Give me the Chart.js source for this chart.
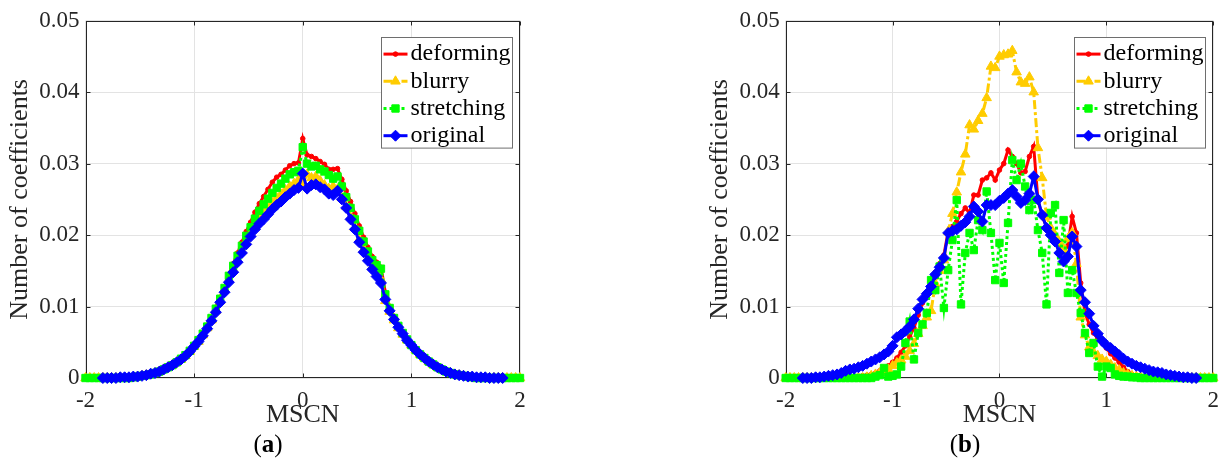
<!DOCTYPE html>
<html>
<head>
<meta charset="utf-8">
<script src="https://cdn.jsdelivr.net/npm/chart.js@4/dist/chart.umd.min.js"></script>
<style>
html,body{margin:0;padding:0;background:#fff;width:1228px;height:462px;overflow:hidden;}
.panel{position:absolute;top:0;}
canvas{display:block;}
.cap{position:absolute;font-family:"Liberation Serif","Times New Roman",serif;font-size:25px;line-height:28px;color:#000;transform:translateX(-50%);white-space:nowrap;}
</style>
</head>
<body>
<div class="panel" style="left:0px"><canvas id="ca" width="540" height="462"></canvas></div>
<div class="panel" style="left:700px"><canvas id="cb" width="528" height="462"></canvas></div>
<div class="cap" style="left:268px;top:430px">(<b>a</b>)</div>
<div class="cap" style="left:965px;top:430px">(<b>b</b>)</div>
<script>
// ---------- data ----------
const X = [-2,-1.96,-1.92,-1.88,-1.84,-1.8,-1.76,-1.72,-1.68,-1.64,
  -1.6,-1.56,-1.52,-1.48,-1.44,-1.4,-1.36,-1.32,-1.28,-1.24,
  -1.2,-1.16,-1.12,-1.08,-1.04,-1,-0.96,-0.92,-0.88,-0.84,
  -0.8,-0.76,-0.72,-0.68,-0.64,-0.6,-0.56,-0.52,-0.48,-0.44,
  -0.4,-0.36,-0.32,-0.28,-0.24,-0.2,-0.16,-0.12,-0.08,-0.04,
  0,0.04,0.08,0.12,0.16,0.2,0.24,0.28,0.32,0.36,
  0.4,0.44,0.48,0.52,0.56,0.6,0.64,0.68,0.72,0.76,
  0.8,0.84,0.88,0.92,0.96,1,1.04,1.08,1.12,1.16,
  1.2,1.24,1.28,1.32,1.36,1.4,1.44,1.48,1.52,1.56,
  1.6,1.64,1.68,1.72,1.76,1.8,1.84,1.88,1.92,1.96,
  2];

const SERIES_NAMES = ['deforming','blurry','stretching','original'];
const X_TICKS = [-2,-1,0,1,2];
const Y_TICKS = [0,0.01,0.02,0.03,0.04,0.05];

// panel (a)
const A_DEFORMING = [0,0,0,0,0,0,0,0,0,0,
  0,0.0001,0.0002,0.0003,0.0004,0.0005,0.0007,0.0009,0.0012,0.0015,
  0.0018,0.0022,0.0027,0.0032,0.0038,0.0045,0.0053,0.0062,0.0073,0.0085,
  0.0099,0.0113,0.0127,0.0145,0.0160,0.0175,0.0190,0.0205,0.0218,0.0232,
  0.0244,0.0254,0.0264,0.0274,0.0281,0.0285,0.0291,0.0297,0.0300,0.0301,
  0.0335,0.0312,0.0310,0.0307,0.0303,0.0299,0.0292,0.0292,0.0293,0.0278,
  0.0262,0.0247,0.0230,0.0213,0.0197,0.0183,0.0170,0.0162,0.0155,0.0120,
  0.0100,0.0086,0.0074,0.0064,0.0055,0.0047,0.0040,0.0034,0.0028,0.0023,
  0.0019,0.0015,0.0012,0.0009,0.0007,0.0005,0.0004,0.0003,0.0002,0.0001,
  0,0,0,0,0,0,0,0,0,0,
  0];
const A_BLURRY = [0,0,0,0,0,0,0,0,0,0,
  0,0.0001,0.0002,0.0003,0.0004,0.0005,0.0007,0.0009,0.0012,0.0015,
  0.0018,0.0022,0.0026,0.0031,0.0037,0.0044,0.0051,0.0060,0.0070,0.0081,
  0.0094,0.0108,0.0123,0.0138,0.0152,0.0165,0.0178,0.0191,0.0202,0.0212,
  0.0222,0.0230,0.0238,0.0245,0.0252,0.0257,0.0263,0.0268,0.0272,0.0277,
  0.0272,0.0285,0.0280,0.0282,0.0276,0.0270,0.0265,0.0268,0.0264,0.0252,
  0.0240,0.0225,0.0210,0.0194,0.0180,0.0168,0.0156,0.0146,0.0138,0.0108,
  0.0093,0.0081,0.0070,0.0061,0.0053,0.0046,0.0039,0.0033,0.0028,0.0023,
  0.0019,0.0015,0.0012,0.0009,0.0007,0.0005,0.0004,0.0003,0.0002,0.0001,
  0,0,0,0,0,0,0,0,0,0,
  0];
const A_STRETCHING = [0,0,0,0,0,0,0,0,0,0,
  0,0.0001,0.0002,0.0003,0.0004,0.0005,0.0007,0.0009,0.0012,0.0015,
  0.0018,0.0022,0.0027,0.0032,0.0038,0.0045,0.0053,0.0062,0.0072,0.0084,
  0.0097,0.0111,0.0126,0.0143,0.0157,0.0171,0.0185,0.0199,0.0211,0.0223,
  0.0234,0.0243,0.0251,0.0259,0.0266,0.0272,0.0279,0.0285,0.0288,0.0290,
  0.0323,0.0300,0.0296,0.0297,0.0292,0.0289,0.0284,0.0279,0.0282,0.0268,
  0.0253,0.0238,0.0222,0.0206,0.0191,0.0177,0.0165,0.0158,0.0153,0.0117,
  0.0098,0.0084,0.0073,0.0063,0.0054,0.0046,0.0039,0.0033,0.0028,0.0023,
  0.0019,0.0015,0.0012,0.0009,0.0007,0.0005,0.0004,0.0003,0.0002,0.0001,
  0,0,0,0,0,0,0,0,0,0,
  0];
const A_ORIGINAL = [null,null,null,null,0,0,0,0,0.0001,0.0001,
  0.0001,0.0002,0.0002,0.0003,0.0004,0.0006,0.0007,0.0009,0.0012,0.0015,
  0.0018,0.0022,0.0026,0.0031,0.0037,0.0044,0.0051,0.0059,0.0069,0.0080,
  0.0092,0.0106,0.0120,0.0134,0.0148,0.0162,0.0175,0.0187,0.0198,0.0208,
  0.0216,0.0222,0.0229,0.0236,0.0242,0.0247,0.0253,0.0258,0.0263,0.0266,
  0.0286,0.0265,0.0270,0.0271,0.0267,0.0264,0.0258,0.0256,0.0262,0.0250,
  0.0238,0.0222,0.0208,0.0190,0.0176,0.0164,0.0152,0.0142,0.0133,0.0110,
  0.0094,0.0082,0.0071,0.0062,0.0053,0.0046,0.0039,0.0033,0.0028,0.0023,
  0.0019,0.0015,0.0012,0.0009,0.0007,0.0005,0.0004,0.0003,0.0002,0.0002,
  0.0001,0.0001,0.0001,0,0,0,0,null,null,null,
  null];

// panel (b)
const B_DEFORMING = [0,0,0,0,0,0,0,0,0,0,
  0,0,0,0,0.0001,0.0001,0.0002,0.0002,0.0003,0.0004,
  0.0005,0.0007,0.0010,0.0013,0.0017,0.0022,0.0028,0.0036,0.0045,0.0058,
  0.0070,0.0088,0.0105,0.0120,0.0133,0.0148,0.0160,0.0172,0.0205,0.0212,
  0.0219,0.0230,0.0238,0.0231,0.0256,0.0256,0.0277,0.0280,0.0287,0.0277,
  0.0291,0.0300,0.0319,0.0310,0.0300,0.0287,0.0289,0.0310,0.0324,0.0249,
  0.0226,0.0212,0.0205,0.0196,0.0188,0.0177,0.0185,0.0226,0.0203,0.0133,
  0.0091,0.0075,0.0063,0.0055,0.0049,0.0042,0.0034,0.0028,0.0022,0.0015,
  0.0009,0.0005,0.0003,0.0001,0,0,0,0,0,0,
  0,0,0,0,0,0,0,0,0,0,
  0];
const B_BLURRY = [0,0,0,0,0,0,0,0,0,0,
  0,0,0,0,0,0,0,0,0,0.0001,
  0.0003,0.0005,0.0007,0.0009,0.0012,0.0017,0.0021,0.0025,0.0030,0.0038,
  0.0048,0.0062,0.0073,0.0085,0.0094,0.0132,0.0150,0.0165,0.0205,0.0230,
  0.0260,0.0288,0.0313,0.0354,0.0348,0.0360,0.0370,0.0392,0.0436,0.0434,
  0.0450,0.0452,0.0453,0.0458,0.0428,0.0414,0.0412,0.0421,0.0400,0.0322,
  0.0280,0.0226,0.0210,0.0200,0.0190,0.0180,0.0195,0.0203,0.0160,0.0085,
  0.0060,0.0043,0.0036,0.0031,0.0026,0.0023,0.0019,0.0014,0.0011,0.0007,
  0.0005,0.0003,0.0002,0.0001,0,0,0,0,0,0,
  0,0,0,0,0,0,0,0,0,0,
  0];
const B_STRETCHING = [0,0,0,0,0,0,0,0,0,0,
  0,0,0,0,0,0,0,0,0,0,
  0,0.0002,0.0004,0.0014,0.0002,0.0003,0.0005,0.0016,0.0049,0.0079,
  0.0026,0.0063,0.0075,0.0091,0.0137,0.0123,0.0156,0.0098,0.0151,0.0193,
  0.0249,0.0103,0.0175,0.0203,0.0179,0.0221,0.0207,0.0261,0.0203,0.0137,
  0.0189,0.0133,0.0217,0.0305,0.0277,0.0300,0.0268,0.0235,0.0249,0.0207,
  0.0175,0.0103,0.0231,0.0242,0.0147,0.0221,0.0119,0.0151,0.0119,0.0091,
  0.0063,0.0035,0.0049,0.0016,0.0002,0.0016,0.0014,0.0005,0.0003,0.0002,
  0.0002,0.0001,0.0001,0,0,0,0,0,0,0,
  0,0,0,0,0,0,0,0,0,0,
  0];
const B_ORIGINAL = [null,null,null,null,0,0,0,0.0001,0.0001,0.0002,
  0.0003,0.0004,0.0005,0.0007,0.0010,0.0012,0.0013,0.0015,0.0017,0.0020,
  0.0023,0.0026,0.0029,0.0033,0.0037,0.0045,0.0057,0.0061,0.0066,0.0072,
  0.0082,0.0097,0.0110,0.0118,0.0128,0.0145,0.0155,0.0168,0.0203,0.0206,
  0.0208,0.0213,0.0218,0.0226,0.0240,0.0233,0.0219,0.0242,0.0242,0.0242,
  0.0248,0.0252,0.0258,0.0263,0.0254,0.0245,0.0249,0.0258,0.0282,0.0250,
  0.0228,0.0210,0.0200,0.0191,0.0175,0.0163,0.0170,0.0198,0.0184,0.0123,
  0.0106,0.0090,0.0073,0.0062,0.0052,0.0046,0.0042,0.0037,0.0032,0.0027,
  0.0023,0.0020,0.0017,0.0015,0.0013,0.0011,0.0009,0.0008,0.0007,0.0005,
  0.0004,0.0003,0.0002,0.0001,0.0001,0,0,null,null,null,
  null];

// ---------- styling ----------
const FONT = '"Liberation Serif", "Times New Roman", serif';
const AX_COLOR = '#262626';
const STYLES = {
  deforming:  {color:'#ff0000', dash:[],        pointStyle:'circle',  radius:2.3, order:4},
  blurry:     {color:'#ffcc00', dash:[9,3,3,3], pointStyle:'triangle',radius:5.5, order:3},
  stretching: {color:'#00ff00', dash:[3,3],     pointStyle:'rect',    radius:5.2, order:2},
  original:   {color:'#0000ff', dash:[],        pointStyle:'rectRot', radius:5.5, order:1}
};

function makeDataset(name, values){
  const s = STYLES[name];
  return {
    label: name,
    data: X.map((x,i)=>({x:x, y:values[i]})),
    borderColor: s.color, backgroundColor: s.color,
    borderWidth: 3, borderDash: s.dash, borderCapStyle:'butt', borderJoinStyle:'miter',
    pointStyle: s.pointStyle, pointRadius: s.radius, pointHoverRadius: s.radius,
    pointBackgroundColor: s.color, pointBorderColor: s.color, pointBorderWidth: 1,
    tension: 0, clip: false, order: s.order, spanGaps: false
  };
}

const framePlugin = {
  id: 'frame',
  beforeDatasetsDraw(chart){
    const {ctx, chartArea:a, scales} = chart;
    const x = scales.x, y = scales.y;
    ctx.save();
    ctx.strokeStyle = AX_COLOR; ctx.lineWidth = 1; ctx.setLineDash([]);
    const L = Math.round(a.left)+0.5, T = Math.round(a.top)+0.5, R = Math.round(a.right)-0.5, B = Math.round(a.bottom)-0.5;
    ctx.strokeRect(L, T, R-L, B-T);
    const tl = 4;
    ctx.beginPath();
    x.ticks.forEach(t=>{
      const px = Math.round(x.getPixelForValue(t.value))+0.5;
      ctx.moveTo(px,B); ctx.lineTo(px,B-tl);
      ctx.moveTo(px,T); ctx.lineTo(px,T+tl);
    });
    y.ticks.forEach(t=>{
      const py = Math.round(y.getPixelForValue(t.value))+0.5;
      ctx.moveTo(L,py); ctx.lineTo(L+tl,py);
      ctx.moveTo(R,py); ctx.lineTo(R-tl,py);
    });
    ctx.stroke();
    ctx.restore();
  },
  afterDraw(chart){
    const {ctx, chartArea:a} = chart;
    const bw = 131, bh = 110.6;
    const bx = Math.round(a.right - 8.3 - bw) + 0.5, by = Math.round(a.top + 16) + 0.5;
    ctx.save();
    ctx.fillStyle = '#ffffff';
    ctx.fillRect(bx, by, bw, bh);
    ctx.strokeStyle = '#6e6e6e'; ctx.lineWidth = 1; ctx.setLineDash([]);
    ctx.strokeRect(bx, by, bw, bh);
    SERIES_NAMES.forEach((name, i)=>{
      const s = STYLES[name];
      const cy = by + 16.6 + i*27.2;
      ctx.strokeStyle = s.color; ctx.fillStyle = s.color;
      ctx.lineWidth = 3; ctx.setLineDash(s.dash); ctx.lineCap = 'butt';
      ctx.beginPath(); ctx.moveTo(bx+2, cy); ctx.lineTo(bx+26, cy); ctx.stroke();
      ctx.setLineDash([]); ctx.lineWidth = 1;
      Chart.helpers.drawPoint(ctx, {pointStyle: s.pointStyle, radius: s.radius, rotation: 0, borderWidth: 1}, bx+14, cy);
      ctx.fillStyle = '#000000';
      ctx.font = '24px ' + FONT;
      ctx.textBaseline = 'middle'; ctx.textAlign = 'left';
      ctx.fillText(name, bx+29, cy);
    });
    ctx.restore();
  }
};

function makeChart(id, seriesValues, rightPad, yWidth){
  const ctx = document.getElementById(id).getContext('2d');
  return new Chart(ctx, {
    type: 'line',
    data: { datasets: SERIES_NAMES.map((n,i)=>makeDataset(n, seriesValues[i])) },
    options: {
      responsive: false, animation: false, devicePixelRatio: 1,
      layout: { padding: {left:0, right:rightPad, top:20.7, bottom:31.4} },
      plugins: { legend:{display:false}, tooltip:{enabled:false} },
      events: [],
      scales: {
        x: {
          type:'linear', min:-2, max:2,
          afterBuildTicks: s => { s.ticks = X_TICKS.map(v=>({value:v})); },
          ticks: { callback: v => String(v), font:{family:FONT, size:23}, color:AX_COLOR, padding:9, maxRotation:0 },
          grid: { color:'#e3e3e3', lineWidth:1, drawTicks:false },
          border: { display:false },
          title: { display:true, text:'MSCN', font:{family:FONT, size:26}, color:AX_COLOR, padding:{top:0,bottom:0} },
          afterFit: s => { s.height = 52.6; }
        },
        y: {
          type:'linear', min:0, max:0.05,
          afterBuildTicks: s => { s.ticks = Y_TICKS.map(v=>({value:v})); },
          ticks: { callback: v => v===0 ? '0' : v.toFixed(2), font:{family:FONT, size:23}, color:AX_COLOR, padding:6 },
          grid: { color:'#e3e3e3', lineWidth:1, drawTicks:false },
          border: { display:false },
          title: { display:true, text:'Number of coefficients', font:{family:FONT, size:26}, color:AX_COLOR, padding:{top:5,bottom:0} },
          afterFit: s => { s.width = yWidth; }
        }
      }
    },
    plugins: [framePlugin]
  });
}

makeChart('ca', [A_DEFORMING, A_BLURRY, A_STRETCHING, A_ORIGINAL], 20, 85.5);
makeChart('cb', [B_DEFORMING, B_BLURRY, B_STRETCHING, B_ORIGINAL], 6.7, 85.7);
</script>
</body>
</html>
